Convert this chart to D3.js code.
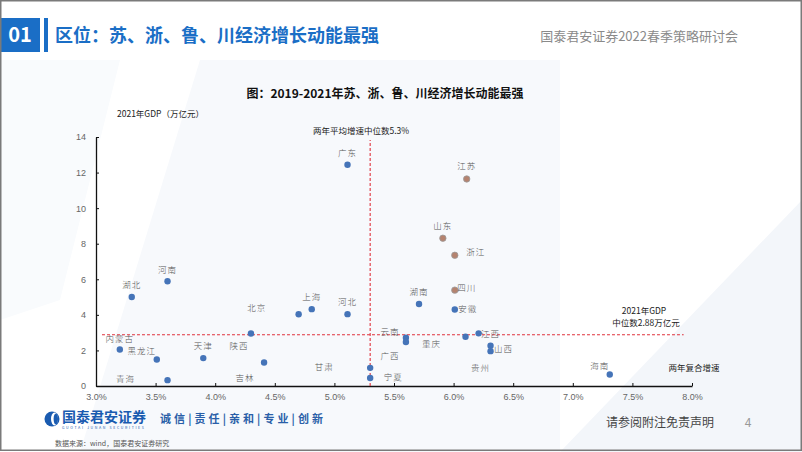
<!DOCTYPE html>
<html>
<head>
<meta charset="utf-8">
<script src="https://cdn.jsdelivr.net/npm/d3@7"></script>
<style>
  html, body { margin: 0; padding: 0; background: #fff; }
  svg { display: block; font-family: "Noto Sans CJK SC", "Noto Sans", sans-serif; }
</style>
</head>
<body>
<svg id="slide" width="802" height="452"></svg>
<script>
// 省份, 两年复合增速(%), 2021年GDP(万亿元)
const provinces = ["广东","江苏","山东","浙江","河南","四川","湖北","湖南","安徽","上海","河北","北京","陕西",
  "江西","重庆","云南","广西","内蒙古","山西","贵州","天津","黑龙江","吉林","甘肃","海南","宁夏","青海"];
const growth = [5.11, 6.11, 5.91, 6.01, 3.60, 6.01, 3.30, 5.71, 6.01, 4.81, 5.11, 4.70, 4.30,
  6.21, 6.10, 5.60, 5.60, 3.20, 6.31, 6.31, 3.90, 3.51, 4.41, 5.30, 7.31, 5.30, 3.60];
const gdp = [12.44, 11.64, 8.31, 7.35, 5.89, 5.39, 5.00, 4.61, 4.30, 4.32, 4.04, 4.03, 2.95,
  2.96, 2.77, 2.71, 2.47, 2.05, 2.26, 1.96, 1.57, 1.49, 1.32, 1.02, 0.65, 0.45, 0.33];
const leaders = ["江苏", "浙江", "山东", "四川"];

const xTicks = [3.0, 3.5, 4.0, 4.5, 5.0, 5.5, 6.0, 6.5, 7.0, 7.5, 8.0];
const yTicks = [0, 2, 4, 6, 8, 10, 12, 14];
const medianGrowth = 5.3;
const medianGdp = 2.88;

// label offsets in px from each point (same order as provinces)
const labelOffset = [[0,-13],[0,-14],[0,-13],[21,-4],[0,-12],[12,-3],[0,-13],[0,-13],[13,-2],[0,-13],[0,-13],[-42,-7],[-12,11],
  [12,0],[-34,6],[-16,-7],[-16,13],[0,-12],[13,2],[-10,16],[0,-13],[-15,-9],[-19,14],[-46,-2],[-10,-9],[23,-2],[-42,-2]];

const svg = d3.select("#slide");

// faint background shapes
svg.append("rect").attr("width", 802).attr("height", 452).attr("fill", "#fff");
svg.append("path").attr("d", "M200,60 L560,60 L560,452 L80,452 Z").attr("fill", "#f7f9fc");
svg.append("path").attr("d", "M560,452 L802,200 L802,452 Z").attr("fill", "#f3f6fa");
svg.append("path").attr("d", "M0,60 L120,60 L60,300 L0,320 Z").attr("fill", "#f9fbfd");

// header
svg.append("rect").attr("x", 0).attr("y", 18).attr("width", 40).attr("height", 34).attr("fill", "#1a6ec6");
svg.append("text").attr("x", 20).attr("y", 42).attr("text-anchor", "middle")
  .attr("fill", "#fff").attr("font-size", 20).attr("font-weight", "bold").text("01");
svg.append("rect").attr("x", 44).attr("y", 18).attr("width", 4).attr("height", 34).attr("fill", "#1a6ec6");
svg.append("text").attr("x", 55).attr("y", 42).attr("fill", "#1a6ec6")
  .attr("font-size", 18).attr("font-weight", "bold").text("区位：苏、浙、鲁、川经济增长动能最强");
svg.append("text").attr("x", 738).attr("y", 41).attr("text-anchor", "end").attr("fill", "#8a8a8a")
  .attr("font-size", 13).text("国泰君安证券2022春季策略研讨会");

// chart title
svg.append("text").attr("x", 385).attr("y", 98).attr("text-anchor", "middle").attr("fill", "#111")
  .attr("font-size", 12).attr("font-weight", "bold").text("图：2019-2021年苏、浙、鲁、川经济增长动能最强");

const x = d3.scaleLinear().domain([3, 8]).range([96, 692]);
const y = d3.scaleLinear().domain([0, 14]).range([386, 137]);

const g = svg.append("g");

// axes
const xAxis = g.append("g").attr("transform", `translate(0,${y(0)})`)
  .call(d3.axisBottom(x).tickValues(xTicks).tickFormat(d => d.toFixed(1) + "%")
    .tickSizeInner(-3).tickSizeOuter(0).tickPadding(8));
const yAxis = g.append("g").attr("transform", `translate(${x(3)},0)`)
  .call(d3.axisLeft(y).tickValues(yTicks).tickSizeInner(-3).tickSizeOuter(0).tickPadding(10));
[xAxis, yAxis].forEach(a => {
  a.select(".domain").attr("stroke", "#111").attr("stroke-width", 1.3);
  a.selectAll(".tick line").attr("stroke", "#111");
  a.selectAll(".tick text").attr("fill", "#666").attr("font-size", 9)
    .attr("font-family", "'Liberation Sans', Arial, sans-serif");
});

// median lines
g.append("line").attr("x1", x(medianGrowth)).attr("x2", x(medianGrowth))
  .attr("y1", y(0)).attr("y2", y(13.83))
  .attr("stroke", "#e0323c").attr("stroke-width", 1.1).attr("stroke-dasharray", "3,2");
g.append("line").attr("x1", x(3.05)).attr("x2", x(7.93))
  .attr("y1", y(medianGdp)).attr("y2", y(medianGdp))
  .attr("stroke", "#e0323c").attr("stroke-width", 1.1).attr("stroke-dasharray", "3,2");

// annotations
const note = (tx, ty, t, anchor) => g.append("text").attr("x", tx).attr("y", ty)
  .attr("text-anchor", anchor || "middle").attr("fill", "#222").attr("font-size", 8.5).text(t);
note(117, 117, "2021年GDP（万亿元）", "start");
note(361, 134, "两年平均增速中位数5.3%");
note(644, 314, "2021年GDP");
note(646, 326, "中位数2.88万亿元");
note(694, 371, "两年复合增速");

// points
const pts = provinces.map((p, i) => ({ name: p, gx: growth[i], gy: gdp[i], off: labelOffset[i] }));

g.selectAll(".pt").data(pts).enter().append("circle")
  .attr("class", "pt")
  .attr("cx", d => x(d.gx)).attr("cy", d => y(d.gy)).attr("r", 3.2)
  .attr("fill", d => leaders.includes(d.name) ? "#b5836f" : "#4574b8")
  .attr("stroke", d => leaders.includes(d.name) ? "#9a9a9a" : "none")
  .attr("stroke-width", 0.8);

g.selectAll(".lbl").data(pts).enter().append("text")
  .attr("class", "lbl")
  .attr("x", d => x(d.gx) + d.off[0]).attr("y", d => y(d.gy) + d.off[1])
  .attr("text-anchor", "middle").attr("dominant-baseline", "central")
  .attr("fill", "#555").attr("font-size", 8.5).attr("font-weight", 300)
  .attr("letter-spacing", 1)
  .text(d => d.name);

// footer
const logo = svg.append("g").attr("transform", "translate(52,419)");
logo.append("circle").attr("r", 7.5).attr("fill", "#1a5bb0");
logo.append("ellipse").attr("cx", 2.5).attr("cy", 0).attr("rx", 3.5).attr("ry", 6.5).attr("fill", "#fff");
logo.append("ellipse").attr("cx", 3.8).attr("cy", 0).attr("rx", 2.2).attr("ry", 5.5).attr("fill", "#1a5bb0");
svg.append("text").attr("x", 62).attr("y", 422).attr("fill", "#1a5bb0").attr("font-size", 14)
  .attr("font-weight", "bold").text("国泰君安证券");
svg.append("text").attr("x", 62).attr("y", 428.5).attr("fill", "#1a5bb0").attr("font-size", 3.6)
  .attr("textLength", 82).text("GUOTAI JUNAN SECURITIES");
svg.append("text").attr("x", 160).attr("y", 423).attr("fill", "#2a5fa8").attr("font-size", 11)
  .attr("font-weight", "bold").attr("textLength", 163).text("诚 信 | 责 任 | 亲 和 | 专 业 | 创 新");
svg.append("text").attr("x", 55).attr("y", 446).attr("fill", "#555").attr("font-size", 7)
  .text("数据来源：wind，国泰君安证券研究");
svg.append("text").attr("x", 660).attr("y", 427).attr("text-anchor", "middle").attr("fill", "#444")
  .attr("font-size", 12).text("请参阅附注免责声明");
svg.append("text").attr("x", 748).attr("y", 427).attr("text-anchor", "middle").attr("fill", "#999")
  .attr("font-size", 12).text("4");

// slide frame
svg.append("rect").attr("x", 0.75).attr("y", 0.75).attr("width", 800.5).attr("height", 449.5)
  .attr("fill", "none").attr("stroke", "#7a7a7a").attr("stroke-width", 1.5);
</script>
</body>
</html>
